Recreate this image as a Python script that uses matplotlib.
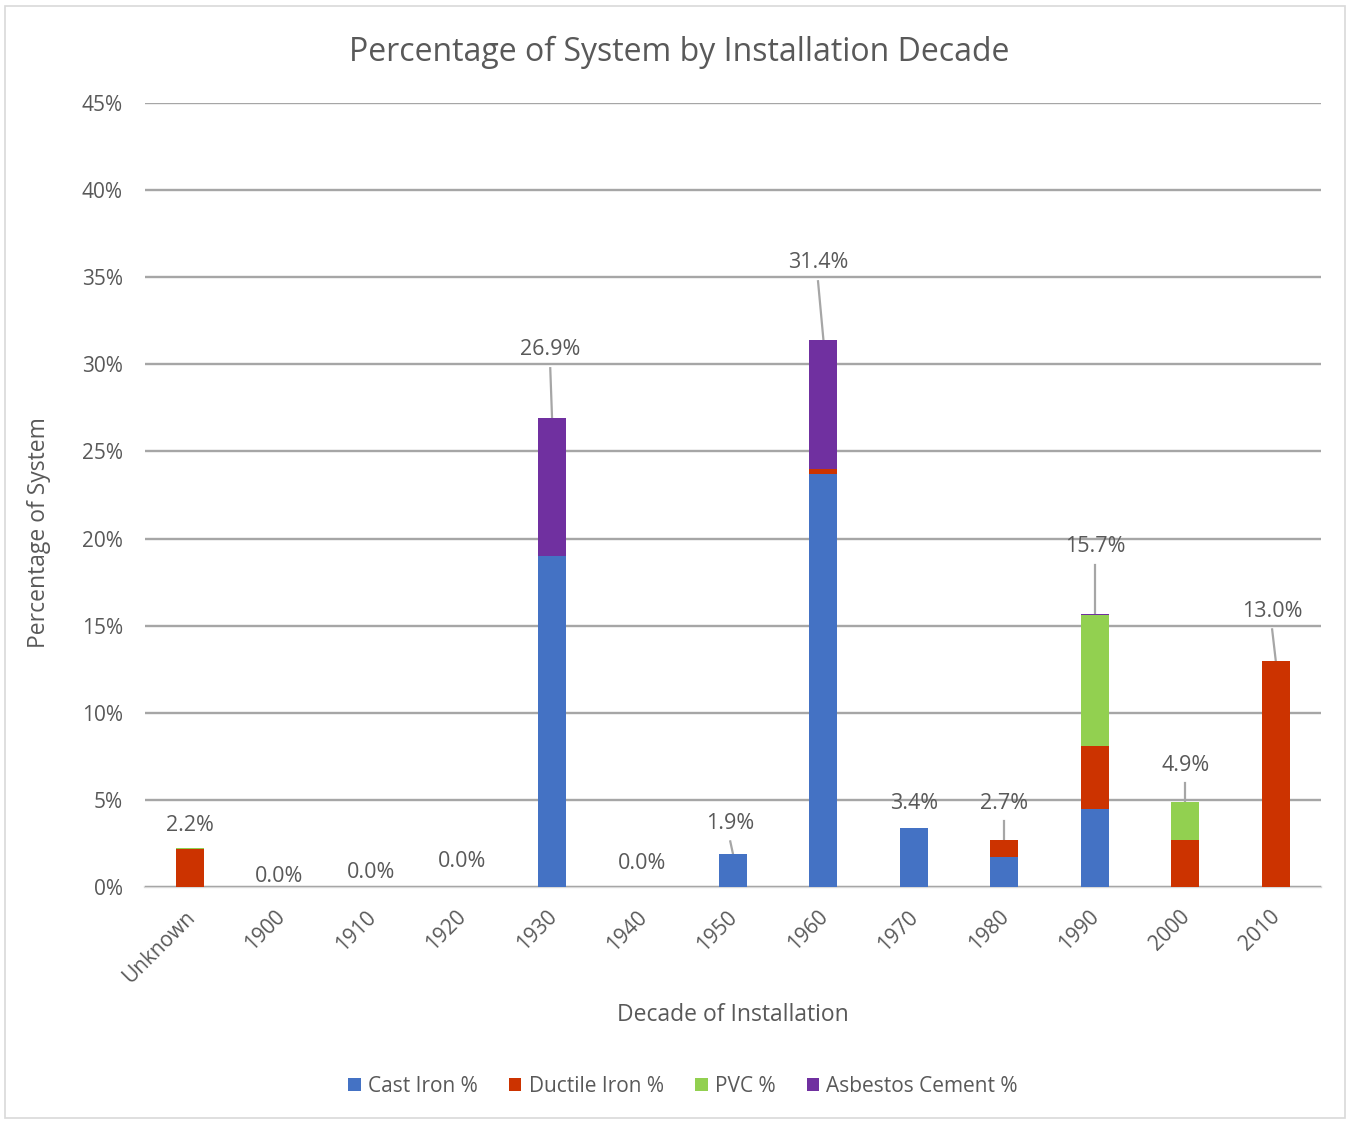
import numpy as np
import matplotlib.pyplot as plt
import matplotlib.transforms as mtransforms
from matplotlib.patches import Rectangle

plt.rcParams['font.family'] = ['Open Sans', 'DejaVu Sans']

decades = ['Unknown', '1900', '1910', '1920', '1930', '1940', '1950',
           '1960', '1970', '1980', '1990', '2000', '2010']
cast_iron = [0.0, 0.0, 0.0, 0.0, 19.0, 0.0, 1.9, 23.7, 3.4, 1.7, 4.5, 0.0, 0.0]
ductile_iron = [2.2, 0.0, 0.0, 0.0, 0.0, 0.0, 0.0, 0.3, 0.0, 1.0, 3.6, 2.7, 13.0]
pvc = [0.05, 0.0, 0.0, 0.0, 0.0, 0.0, 0.0, 0.0, 0.0, 0.0, 7.5, 2.2, 0.0]
asbestos = [0.0, 0.0, 0.0, 0.0, 7.9, 0.0, 0.0, 7.4, 0.0, 0.0, 0.1, 0.0, 0.0]
totals = [2.2, 0.0, 0.0, 0.0, 26.9, 0.0, 1.9, 31.4, 3.4, 2.7, 15.7, 4.9, 13.0]

# data label centre offsets above bar top (in % units), x shifts, leader lines
label_dy = [1.36, 0.63, 0.86, 1.44, 3.93, 1.38, 1.77, 4.42, 1.42, 2.12, 3.82, 2.1, 2.84]
label_dx = [0, -0.02, 0, 0, -0.02, 0, -0.03, -0.06, 0, 0, 0, 0, -0.04]
leaders = [False, False, False, False, True, False, True, True, False, True, True, True, True]

colors = ['#4472C4', '#CC3300', '#92D050', '#7030A0']
names = ['Cast Iron %', 'Ductile Iron %', 'PVC %', 'Asbestos Cement %']
text_col = '#595959'

fig = plt.figure(figsize=(13.5, 11.21), dpi=100)
ax = fig.add_axes([0.1074, 0.2087, 0.8711, 0.6994])

x = np.arange(len(decades))
w = 0.31
bottom = np.zeros(len(decades))
for vals, c, n in zip([cast_iron, ductile_iron, pvc, asbestos], colors, names):
    ax.bar(x, vals, w, bottom=bottom, color=c, label=n, zorder=3)
    bottom += np.array(vals)

for i, t in enumerate(totals):
    ly = t + label_dy[i]
    lx = x[i] + label_dx[i]
    ax.text(lx, ly, f'{t:.1f}%', ha='center', va='center', fontsize=15.5,
            color=text_col, zorder=4)
    if leaders[i]:
        ax.plot([lx, x[i]], [ly - 1.05, t], color='#a6a6a6', lw=1.6, zorder=2)

ax.set_xlim(-0.5, len(decades) - 0.5)
ax.set_ylim(0, 45)
ax.set_yticks(np.arange(0, 46, 5))
ax.set_yticklabels([f'{v}%' for v in range(0, 46, 5)])
ax.set_xticks(x)
ax.set_xticklabels(decades, rotation=45, ha='right', rotation_mode='anchor')
ax.tick_params(axis='both', length=0, labelsize=15, colors=text_col)
ax.tick_params(axis='y', pad=16)
ax.tick_params(axis='x', pad=14)
shift = mtransforms.ScaledTranslation(-6 / 100, 0, fig.dpi_scale_trans)
for lab in ax.get_xticklabels():
    lab.set_transform(lab.get_transform() + shift)
ax.grid(axis='y', color='#a6a6a6', lw=1.7, zorder=0)
for s in ['top', 'right', 'left']:
    ax.spines[s].set_visible(False)
ax.spines['bottom'].set_color('#d9d9d9')
ax.spines['bottom'].set_linewidth(1.7)
ax.spines['bottom'].set_zorder(1)

ax.set_xlabel('Decade of Installation', fontsize=16.5, color=text_col)
ax.xaxis.set_label_coords(0.5, -0.148)
ax.set_ylabel('Percentage of System', fontsize=16.5, color=text_col)
ax.yaxis.set_label_coords(-0.08, 0.4515)
fig.text(0.503, 0.953, 'Percentage of System by Installation Decade',
         ha='center', va='center', fontsize=23, color=text_col)

fig.legend(loc='center', bbox_to_anchor=(0.506, 0.0312), ncol=4, frameon=False,
           fontsize=15, handlelength=0.6, handleheight=0.6, handletextpad=0.35,
           columnspacing=1.5, labelcolor=text_col)

fig.patches.append(Rectangle((0.004, 0.003), 0.992, 0.992, transform=fig.transFigure,
                             fill=False, edgecolor='#d9d9d9', lw=1.2))

fig.savefig('out.png', dpi=100)
